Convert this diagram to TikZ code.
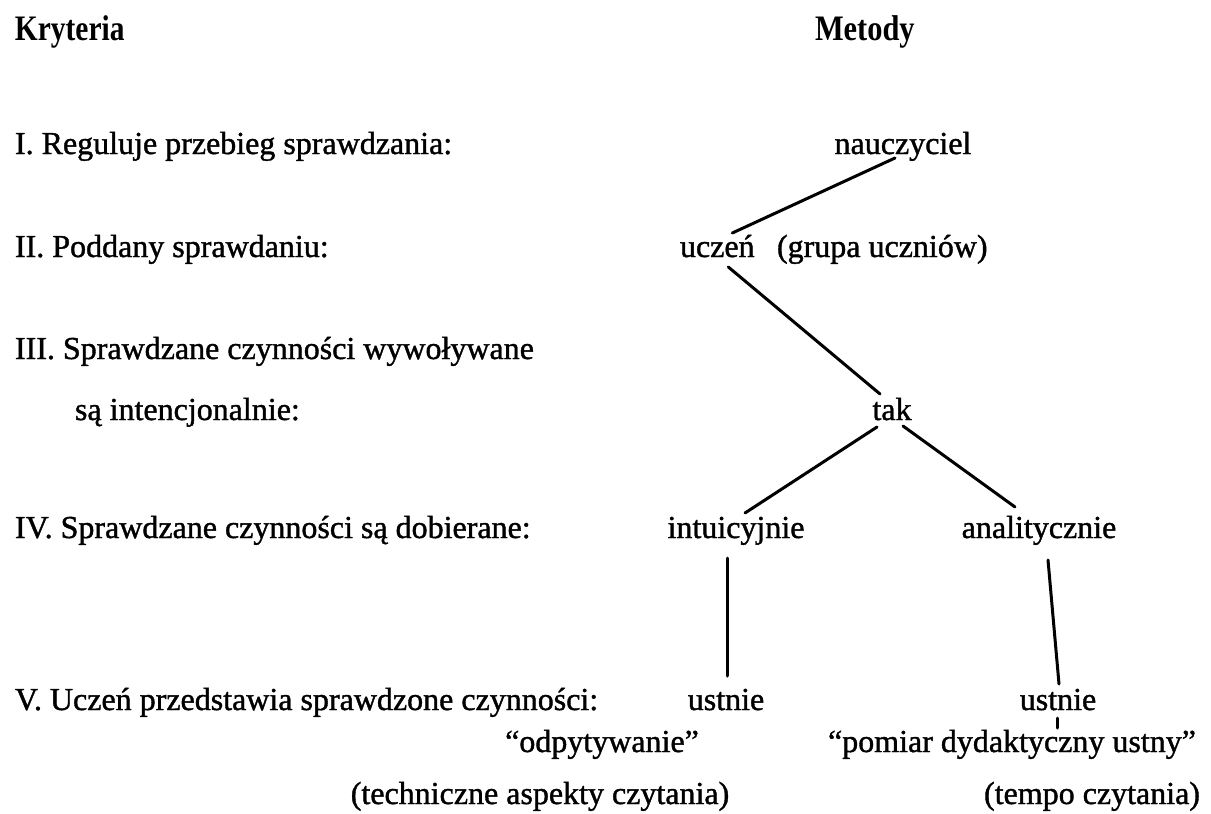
\documentclass[tikz,border=0pt]{standalone}
\usepackage{fontspec}
\setmainfont{Liberation Serif}
\newfontfamily\inkfont{Liberation Serif}[FakeBold=1.2]
\begin{document}
\begin{tikzpicture}[x=1pt,y=-1pt,
  txt/.style={inner sep=0pt,outer sep=0pt,font=\fontsize{32}{38}\inkfont},
  lft/.style={txt,anchor=base west},
  ctr/.style={txt,anchor=base},
  head/.style={inner sep=0pt,outer sep=0pt,anchor=base west,font=\fontsize{32}{38}\selectfont\bfseries},
  link/.style={line width=3pt,line cap=round}]
\useasboundingbox[fill=white] (0,0) rectangle (1211,814);
% headers
\node[head] (kry) at (15,40) {\scalebox{0.92}[1.12]{Kryteria}};
\node[head] (met) at (815,40) {\scalebox{0.95}[1.12]{Metody}};
% criteria
\node[lft] (r1) at (15,154) {I. Reguluje przebieg sprawdzania:};
\node[lft] (r2) at (15,257) {II. Poddany sprawdaniu:};
\node[lft] (r3) at (15,359) {III. Sprawdzane czynności wywoływane};
\node[lft] (r3b) at (75,420) {są intencjonalnie:};
\node[lft] (r4) at (15,538) {IV. Sprawdzane czynności są dobierane:};
\node[lft] (r5) at (15,710) {V. Uczeń przedstawia sprawdzone czynności:};
% methods
\node[ctr] (nau) at (903,154) {nauczyciel};
\node[lft] (ucz) at (680,257) {uczeń};
\node[lft] (grp) at (777,257) {(grupa uczniów)};
\node[ctr] (tak) at (892,420) {tak};
\node[ctr] (intu) at (736,538) {intuicyjnie};
\node[ctr] (anal) at (1039,538) {analitycznie};
\node[ctr] (ust1) at (726,710) {ustnie};
\node[ctr] (ust2) at (1058,710) {ustnie};
\node[ctr] (odp) at (602,752) {“odpytywanie”};
\node[ctr] (pom) at (1012,752) {“pomiar dydaktyczny ustny”};
\node[ctr] (tech) at (540,804) {(techniczne aspekty czytania)};
\node[ctr] (tempo) at (1092,804) {(tempo czytania)};
% connectors
\draw[link] ([xshift=-8pt,yshift=-4pt]nau.base) -- ([xshift=15pt,yshift=24pt]ucz.base);
\draw[link] ([xshift=11pt,yshift=-10pt]ucz.base) -- ([xshift=-12pt,yshift=26pt]tak.base);
\draw[link] ([xshift=-15pt,yshift=-7pt]tak.base) -- ([xshift=9pt,yshift=25pt]intu.base);
\draw[link] ([xshift=11pt,yshift=-6pt]tak.base) -- ([xshift=-24pt,yshift=31pt]anal.base);
\draw[link] ([xshift=-9pt,yshift=-20pt]intu.base) -- ([xshift=1pt,yshift=34pt]ust1.base);
\draw[link] ([xshift=9pt,yshift=-22pt]anal.base) -- ([xshift=1pt,yshift=26pt]ust2.base);
\draw[link] ([xshift=-1pt,yshift=-8pt]ust2.base) -- ([xshift=45pt,yshift=24pt]pom.base);
\end{tikzpicture}
\end{document}
